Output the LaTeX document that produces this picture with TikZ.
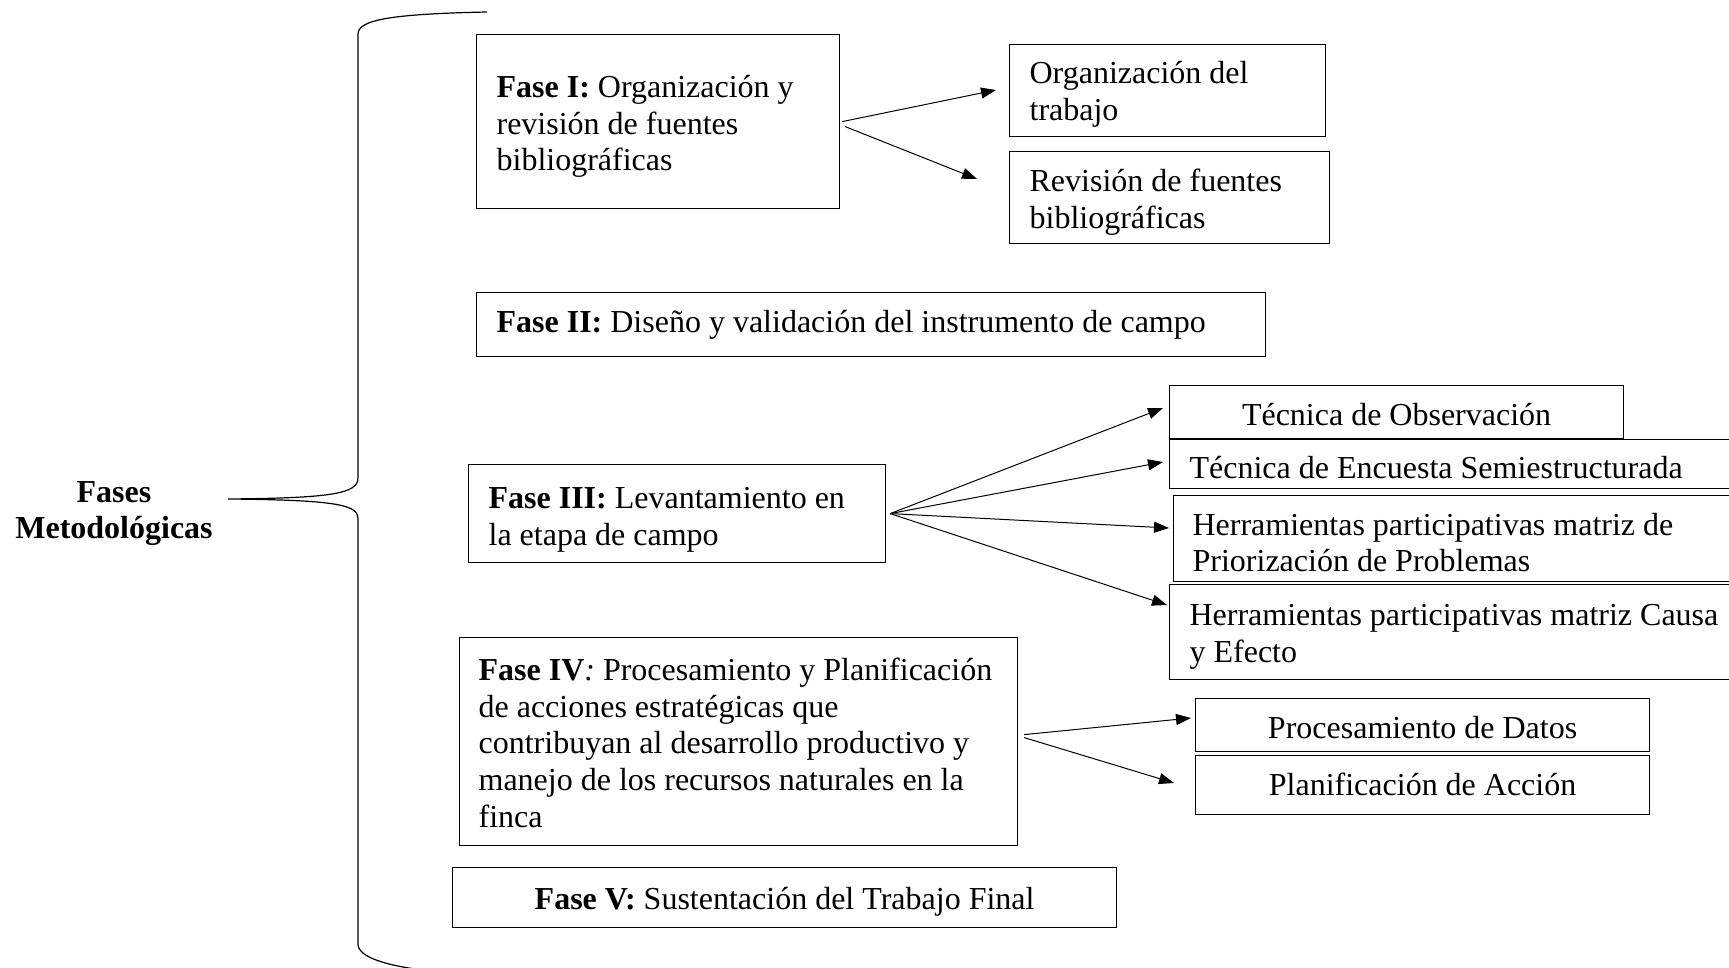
\documentclass[tikz,border=0pt]{standalone}
\usepackage{fontspec}
\setmainfont{Liberation Serif}
\usetikzlibrary{arrows.meta,calc}
\begin{document}
\begin{tikzpicture}[x=0.5pt,y=-0.5pt,
  every node/.style={font=\fontsize{16}{18.4}\selectfont\frenchspacing},
  box/.style 2 args={draw, line width=0.6pt, anchor=north west, inner xsep=10pt, inner ysep=0pt,
    align=flush left, text height=#1, text depth=#2},
  cbox/.style 2 args={draw, line width=0.6pt, anchor=north west, inner xsep=0pt, inner ysep=0pt,
    align=flush center, text height=#1, text depth=#2},
  arr/.style={line width=0.5pt, -{Triangle[length=7.5pt,width=5.5pt]}},
  bracestyle/.style={line width=0.6pt}]
\clip (0,0) rectangle (1729,968);

% brace
\draw[bracestyle] (487,12) .. controls (390,14) and (358,20) .. (358,34) -- (358,478)
  .. controls (358,494) and (330,498) .. (228,499)
  .. controls (330,500) and (358,504) .. (358,518) -- (358,944)
  .. controls (358,958) and (390,966) .. (423,970);
\node[font=\fontsize{16}{18.4}\selectfont\bfseries, align=flush center, text width=110pt,
  anchor=base, inner sep=0pt] (fm) at (114,502) {Fases\\Metodológicas};

% Fase I
\node[box={31.35pt}{55.65pt}, text width=161.5pt] (f1) at (476,34)
  {\textbf{Fase I:} Organización y\\revisión de fuentes\\bibliográficas};
\node[box={19.5pt}{26.5pt}, text width=138pt] (o1) at (1009,44)
  {Organización del\\trabajo};
\node[box={20pt}{26pt}, text width=140pt] (o2) at (1009,151)
  {Revisión de fuentes\\bibliográficas};

% Fase II
\node[box={20pt}{12pt}, text width=374.5pt] (f2) at (476,292)
  {\textbf{Fase II:} Diseño y validación del instrumento de campo};

% Fase III
\node[box={22pt}{27pt}, text width=188.5pt] (f3) at (468,464)
  {\textbf{Fase III:} Levantamiento en\\la etapa de campo};
\node[cbox={19.9pt}{6.6pt}, text width=227pt] (t1) at (1169,385)
  {Técnica de Observación};
\node[box={19.5pt}{5pt}, text width=275.5pt] (t2) at (1169,439)
  {Técnica de Encuesta Semiestructurada};
\node[box={19.75pt}{23.25pt}, inner xsep=9.5pt, text width=275pt] (t3) at (1173,495)
  {Herramientas participativas matriz de\\Priorización de Problemas};
\node[box={20.5pt}{27pt}, text width=275.5pt] (t4) at (1169,584)
  {Herramientas participativas matriz Causa\\y Efecto};

% Fase IV
\node[box={21.35pt}{82.65pt}, inner xsep=9.5pt, text width=260pt] (f4) at (459,637)
  {\textbf{Fase IV}\textit{:} Procesamiento y Planificación\\de acciones estratégicas que\\contribuyan al desarrollo productivo y\\manejo de los recursos naturales en la\\finca};
\node[cbox={19.75pt}{6.75pt}, text width=227pt] (p1) at (1195,698)
  {Procesamiento de Datos};
\node[cbox={20.15pt}{9.35pt}, text width=227pt] (p2) at (1195,755)
  {Planificación de Acción};

% Fase V
\node[cbox={20.75pt}{9.25pt}, text width=332pt] (f5) at (452,867)
  {\textbf{Fase V:} Sustentación del Trabajo Final};

% arrow tips
\coordinate (a1) at (996,90);
\coordinate (a2) at (977,179);
\coordinate (b1) at (1163,408);
\coordinate (b2) at (1163,462);
\coordinate (b3) at (1169,528);
\coordinate (b4) at (1167,605);
\coordinate (c1) at (1191,718);
\coordinate (c2) at (1174,783);

\draw[arr] ($(f1.east)+(2,0)$) -- (a1);
\draw[arr] ($(f1.east)+(5,5)$) -- (a2);
\draw[arr] ($(f3.east)+(4,0)$) -- (b1);
\draw[arr] ($(f3.east)+(4,0)$) -- (b2);
\draw[arr] ($(f3.east)+(4,0)$) -- (b3);
\draw[arr] ($(f3.east)+(4,0)$) -- (b4);
\draw[arr] ($(f4.east)+(6,-7)$) -- (c1);
\draw[arr] ($(f4.east)+(6,-4)$) -- (c2);
\end{tikzpicture}
\end{document}
